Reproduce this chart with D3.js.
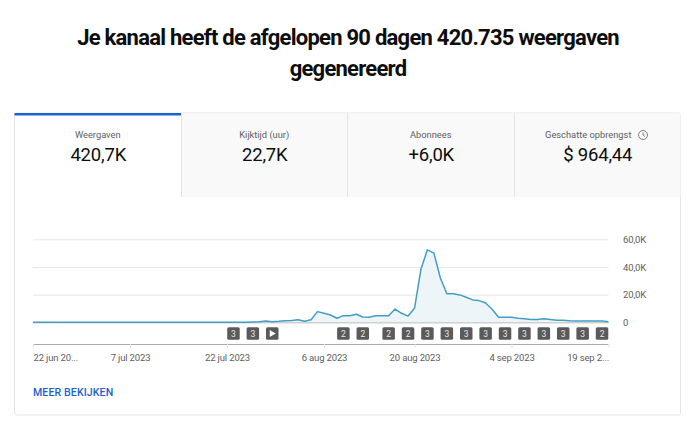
<!DOCTYPE html>
<html><head><meta charset="utf-8">
<script src="https://cdnjs.cloudflare.com/ajax/libs/d3/7.8.5/d3.min.js"></script>
<style>
html,body{margin:0;padding:0;background:#fff}
svg{display:block;font-family:Roboto,sans-serif}
</style></head><body>
<svg id="c" width="690" height="428"></svg>
<script>
const titleLines=["Je kanaal heeft de afgelopen 90 dagen 420.735 weergaven","gegenereerd"];
const tabLabels=["Weergaven","Kijktijd (uur)","Abonnees","Geschatte opbrengst"];
const tabValues=["420,7K","22,7K","+6,0K","$ 964,44"];
const views=[0.1,0.1,0.1,0.1,0.1,0.1,0.1,0.1,0.1,0.1,0.1,0.1,0.1,0.1,0.1,0.1,0.1,0.1,0.1,0.1,
0.1,0.1,0.1,0.1,0.1,0.1,0.1,0.1,0.1,0.1,0.1,0.1,0.1,0.1,0.2,0.4,0.9,0.4,0.7,1.2,1.3,1.8,0.7,1.9,7.7,6.5,5.3,
2.9,4.8,4.8,5.8,3.8,3.6,4.8,4.8,4.8,9.6,6.5,4.5,10.1,38.6,52.4,50,32,20.7,20.7,19.8,18.1,16.2,15.7,14,9.4,3.6,
3.6,3.6,3,2.6,2.1,2.1,2.6,2.1,1.5,1.5,1.1,1,1,1,1,1,0.4];
const yTicks=[0,20,40,60];
const yTickLabels=["0","20,0K","40,0K","60,0K"];
const xTickDays=[0,15,30,45,59,74,89];
const xTickLabels=["22 jun 20...","7 jul 2023","22 jul 2023","6 aug 2023","20 aug 2023","4 sep 2023","19 sep 2..."];
const badgeDays=[31,34,37,48,51,55,58,61,64,67,70,73,76,79,82,85,88];
const badgeLabels=["3","3","play","2","2","2","2","3","3","3","3","3","3","3","3","3","2"];
const moreLabel="MEER BEKIJKEN";

const svg=d3.select("#c");
// title
svg.append("g").selectAll("text").data(titleLines).join("text")
 .attr("x",348).attr("y",(d,i)=>44.5+i*31.5).attr("text-anchor","middle")
 .attr("font-size",22).attr("letter-spacing","-.75").attr("font-weight",700).attr("fill","#0d0d0d").text(d=>d);

// card
const cardL=14.5,cardR=680.5,cardT=113,cardB=415,tabB=197;
svg.append("rect").attr("x",cardL).attr("y",cardT).attr("width",cardR-cardL).attr("height",cardB-cardT)
 .attr("rx",2).attr("fill","#fff").attr("stroke","#e5e5e5");
const tabX=d3.scaleLinear().domain([0,4]).range([cardL,cardR]);
const tabs=svg.append("g").selectAll("g").data(tabLabels).join("g");
tabs.filter((d,i)=>i>0).append("rect")
 .attr("x",(d,i)=>tabX(i+1)).attr("y",cardT+.5).attr("width",(cardR-cardL)/4).attr("height",tabB-cardT-.5)
 .attr("fill","#f9f9f9");
tabs.filter((d,i)=>i>0).append("line")
 .attr("x1",(d,i)=>Math.floor(tabX(i+1))+.5).attr("x2",(d,i)=>Math.floor(tabX(i+1))+.5)
 .attr("y1",cardT).attr("y2",tabB).attr("stroke","#e5e5e5");
tabs.append("text").attr("x",(d,i)=>(tabX(i)+tabX(i+1))/2-(i==3?9:0)).attr("y",138)
 .attr("text-anchor","middle").attr("font-size",9.3).attr("fill","#606060").text(d=>d);
tabs.append("text").attr("x",(d,i)=>(tabX(i)+tabX(i+1))/2+.5).attr("y",161)
 .attr("text-anchor","middle").attr("font-size",18.5).attr("letter-spacing","-.2").attr("fill","#0d0d0d").text((d,i)=>tabValues[i]);
svg.append("rect").attr("x",cardL).attr("y",cardT).attr("width",tabX(1)-tabX(0)).attr("height",2.5).attr("fill","#1c62d0");
// clock icon
const ck=svg.append("g").attr("transform","translate(643,135)").attr("fill","none").attr("stroke","#606060");
ck.append("circle").attr("r",4.5).attr("stroke-width",.8);
ck.append("path").attr("d","M0,-2.6V0L1.8,1.4").attr("stroke-width",.8);

// chart
const x=d3.scaleLinear().domain([0,89]).range([33,608.5]);
const y=d3.scaleLinear().domain([0,60]).range([322.3,239.3]);
const yAxis=d3.axisRight(y).tickValues(yTicks).tickSize(575.5).tickFormat((d,i)=>yTickLabels[i]);
const gy=svg.append("g").attr("transform","translate(33,0)").call(yAxis);
gy.select(".domain").remove();
gy.selectAll("line").attr("stroke","#e6e6e6");
gy.selectAll("text").attr("x",590).attr("font-size",9.5).attr("letter-spacing","-.15").attr("fill","#606060").attr("font-family","Roboto,sans-serif");

svg.append("path").datum(views).attr("fill","#eef5f9")
 .attr("d",d3.area().x((d,i)=>x(i)).y0(y(0)).y1(d=>y(d)));
svg.append("line").attr("x1",x(0)).attr("x2",x(89)).attr("y1",y(0)+.5).attr("y2",y(0)+.5).attr("stroke","#c4c4c4");
svg.append("path").datum(views).attr("fill","none").attr("stroke","#429ec6").attr("stroke-width",1.5).attr("stroke-linejoin","round")
 .attr("d",d3.line().x((d,i)=>x(i)).y(d=>y(d)));

// badges
const b=svg.append("g").selectAll("g").data(badgeDays).join("g")
 .attr("transform",d=>`translate(${x(d)},333.5)`);
b.append("rect").attr("x",-6.25).attr("y",-6.25).attr("width",12.5).attr("height",12.5).attr("rx",1.5).attr("fill","#5a5a5a");
b.filter((d,i)=>badgeLabels[i]!=="play").append("text").attr("text-anchor","middle").attr("y",3)
 .attr("font-size",8.5).attr("fill","#e8e8e8").text(function(d){return badgeLabels[badgeDays.indexOf(d)];});
b.filter((d,i)=>badgeLabels[i]==="play").append("path").attr("d","M-2.5,-3.5L3.5,0L-2.5,3.5Z").attr("fill","#fff");

// x axis
const xAxis=d3.axisBottom(x).tickValues(xTickDays).tickSize(4).tickFormat((d,i)=>xTickLabels[i]);
const gx=svg.append("g").attr("transform","translate(0,344)").call(xAxis);
gx.select(".domain").attr("d",`M${x(0)},0.5H${x(89)}`).attr("stroke","#ababab");
gx.selectAll("line").attr("stroke","#e2e2e2");
gx.selectAll("text").attr("y",17).attr("dy",0).attr("font-size",9.5).attr("letter-spacing","-.15").attr("fill","#606060").attr("font-family","Roboto,sans-serif")
 .attr("text-anchor",(d,i)=>i===0?"start":i===xTickDays.length-1?"end":"middle");

svg.append("text").attr("x",33).attr("y",396).attr("font-size",10.6).attr("font-weight",500).attr("fill","#1c62d0").attr("letter-spacing",".1").text(moreLabel);
</script>
</body></html>
